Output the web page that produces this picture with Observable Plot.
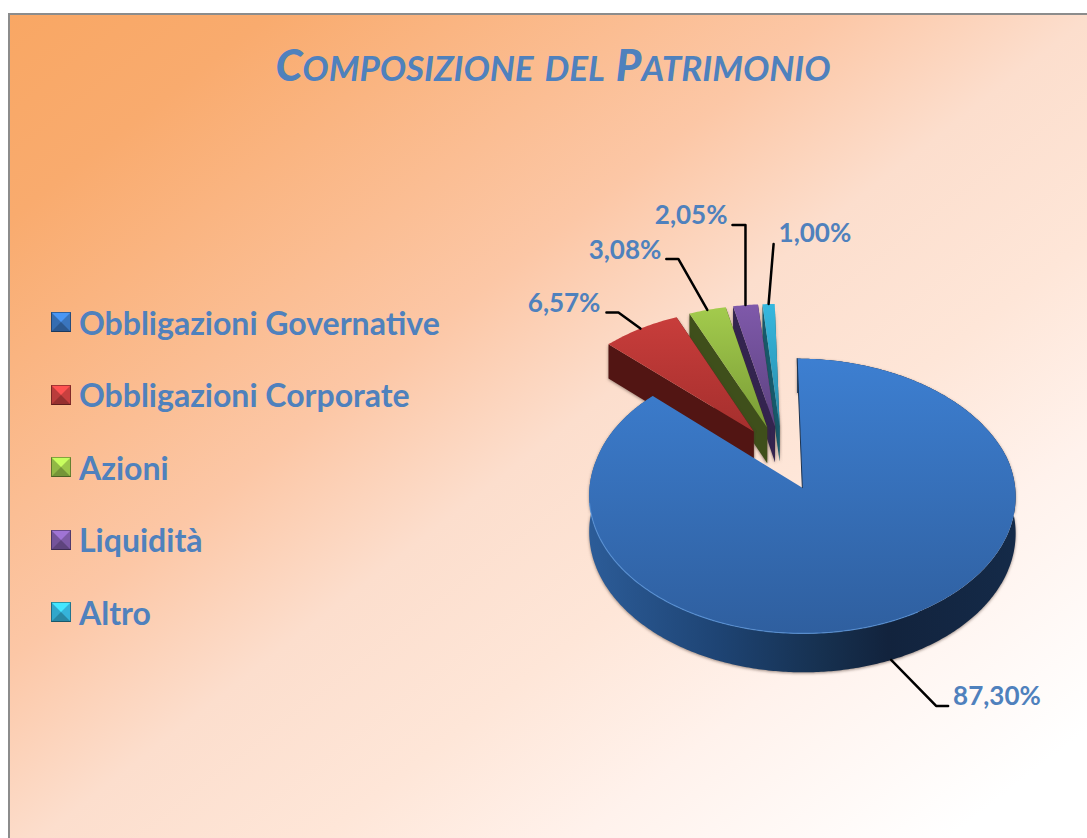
<!DOCTYPE html>
<html lang="it">
<head>
<meta charset="utf-8">
<script src="https://cdn.jsdelivr.net/npm/d3@7"></script>
<script src="https://cdn.jsdelivr.net/npm/@observablehq/plot@0.6"></script>
<style>
  html, body { margin: 0; padding: 0; background: #fff; overflow: hidden; width: 1087px; height: 838px; }
  #frame { position: absolute; left: 8px; top: 13px; width: 1100px; height: 840px; box-sizing: border-box;
    border: 2px solid #8c8c8c;
    background: linear-gradient(142deg, #f9a764 0%, #f9ab6e 12%, #fcc7a6 38%, #fcdecd 50%, #fee6d8 63%, #fff2ec 75%, #ffffff 92%); }
  #title { position: absolute; left: 0; top: 32px; width: 1106px; text-align: center; color: #4f81bd;
    font: italic bold 49.5px Lato, sans-serif; font-variant: small-caps; letter-spacing: 0; }
  #title b { font-size: 43.5px; font-variant: normal; }
  #legend { position: absolute; left: 51px; top: 286px; }
  .item { position: absolute; left: 0; display: flex; align-items: center; white-space: nowrap; height: 40px;
    color: #4f81bd; font: bold 32px Lato, sans-serif; }
  .sw { width: 0; height: 0; border-style: solid; border-width: 10px; margin-right: 8px; outline: 1px solid rgba(0,0,0,.35); outline-offset: -1px; }
  #chart { position: absolute; left: 0; top: 0; }
  #chart svg { display: block; background: transparent; }
</style>
</head>
<body>
<div id="frame"></div>
<div id="title"><b>C</b>omposizione del <b>P</b>atrimonio</div>
<div id="legend"></div>
<div id="chart"></div>
<script>
const categories = ["Obbligazioni Governative", "Obbligazioni Corporate", "Azioni", "Liquidità", "Altro"];
const values = [87.30, 6.57, 3.08, 2.05, 1.00];
const swatchColors = ["#3a75be", "#c8403f", "#9cc64a", "#7d5aa6", "#35b3da"];
const topStart = ["#3d7fd1", "#c83d3b", "#a3cb4d", "#7f59aa", "#36b8df"];
const topEnd = ["#2f5f9f", "#a52f2d", "#7a9c36", "#5c4280", "#298aa8"];
const wallColors = [null, "#521513", "#3f4f1b", "#33244f", "#165a6c"];
// leader layout, in pixels from the rim point of each slice
const kneeOffset = [[45, 46], [-22, -16], [-29, -51], [0, -80], [5, -60]];
const endOffset = [[57, 46], [-34, -16], [-41, -51], [-13, -80], [5, -60]];
const labelOffset = [[62, 37], [-40, -25], [-46, -59], [-18, -89], [10, -70]];

// pie projection
const W = 1087, H = 838, R = 210, S = 133.3, CX = 782, CY = 457.3;
const explode = 0.24, persp = 0.06, depth = 36 / S, lean = 0.026;
const project = (u, v, z = 0) => {
  const w = 1 / (1 - persp * v);
  return {x: (u + lean * Math.min(v, 0)) * w, y: v * w + z * w};
};

const arcs = d3.pie().sort(null).value(d => d)(values);
const slices = arcs.map((a, i) => {
  const mid = (a.startAngle + a.endAngle) / 2;
  const ou = explode * Math.sin(mid), ov = -explode * Math.cos(mid);
  const rim = (t, z = 0) => project(ou + Math.sin(t), ov - Math.cos(t), z);
  const n = Math.max(4, Math.ceil((a.endAngle - a.startAngle) * 90));
  const ts = d3.range(n + 1).map(k => a.startAngle + (a.endAngle - a.startAngle) * k / n);
  const apex = project(ou, ov), apexLow = project(ou, ov, depth);
  return {i, mid, rim, ts, apex, apexLow, top: [apex, ...ts.map(t => rim(t)), apex]};
});

const defsMark = () => {
  const g = document.createElementNS("http://www.w3.org/2000/svg", "g");
  const vert = slices.map(s => `<linearGradient id="top${s.i}" x1="0" y1="0" x2="0" y2="1"><stop offset="0" stop-color="${topStart[s.i]}"/><stop offset="1" stop-color="${topEnd[s.i]}"/></linearGradient>`).join("");
  g.innerHTML = `<defs>${vert}<linearGradient id="blueWall" x1="0" y1="0" x2="1" y2="0">
    <stop offset="0" stop-color="#2c5c98"/><stop offset=".3" stop-color="#1e4474"/><stop offset=".55" stop-color="#16304f"/>
    <stop offset=".7" stop-color="#12233d"/><stop offset="1" stop-color="#142a48"/></linearGradient></defs>`;
  return g;
};

const shadow = "drop-shadow(0 1px 1.5px rgba(70,50,40,.55))";
const xy = {x: "x", y: "y"};
const marks = [defsMark];

// small slices, back to front, each with its cut wall; the blue slice goes last
for (const s of slices.slice(1).reverse()) {
  const corner = s.rim(s.ts[0]), cornerLow = s.rim(s.ts[0], depth);
  const endC = s.rim(s.ts[s.ts.length - 1]), endLow = s.rim(s.ts[s.ts.length - 1], depth);
  marks.push(Plot.line([s.apex, endC, endLow, s.apexLow], {...xy, fill: wallColors[s.i], stroke: "none", imageFilter: shadow}));
  marks.push(Plot.line([s.apex, corner, cornerLow, s.apexLow], {...xy, fill: wallColors[s.i], stroke: "none", imageFilter: shadow}));
  marks.push(Plot.line(s.top, {...xy, fill: `url(#top${s.i})`, stroke: "none"}));
}
const b = slices[0];
const wallTop = b.ts.map(t => b.rim(t));
const wallLow = b.ts.map(t => b.rim(t, depth));
marks.push(Plot.line([...wallTop, ...wallLow.reverse()], {...xy, fill: "url(#blueWall)", stroke: "none", imageFilter: shadow}));
marks.push(Plot.line(b.top, {...xy, fill: "url(#top0)", stroke: "none"}));
marks.push(Plot.line([b.rim(b.ts[0]), b.apex], {...xy, stroke: "#1c3350", strokeWidth: 1}));
const edge = b.ts.filter(t => t > 2.6 && t < 4.6).map(t => b.rim(t));
marks.push(Plot.line(edge, {...xy, stroke: "#5b98e0", strokeWidth: 1.2, strokeOpacity: 0.7}));

// leaders and percentage labels
const fmt = d3.format(".2f");
const px = ([dx, dy], p) => ({x: p.x + dx / R, y: p.y + dy / S});
slices.forEach(s => {
  const a = s.rim(s.mid, s.i === 0 ? depth : 0);
  const knee = px(kneeOffset[s.i], a), end = px(endOffset[s.i], a), lab = px(labelOffset[s.i], a);
  marks.push(Plot.line([a, knee, end], {...xy, stroke: "#000", strokeWidth: 2.5, curve: "linear"}));
  marks.push(Plot.text([lab], {...xy, text: () => fmt(values[s.i]).replace(".", ",") + "%",
    textAnchor: s.i === 0 || s.i === 4 ? "start" : "end", fill: "#4f81bd",
    fontFamily: "Lato, sans-serif", fontWeight: 700, fontSize: 26}));
});

const chart = Plot.plot({
  width: W, height: H, margin: 0,
  x: {domain: [-CX / R, (W - CX) / R], range: [0, W], axis: null},
  y: {domain: [-CY / S, (H - CY) / S], range: [0, H], axis: null},
  style: {background: "transparent", overflow: "visible"},
  marks
});
document.getElementById("chart").append(chart);

// legend
const legend = d3.select("#legend");
categories.forEach((c, i) => {
  const col = d3.color(swatchColors[i]);
  const item = legend.append("div").attr("class", "item").style("top", (i * 72.6 + 16) + "px");
  item.append("span").attr("class", "sw").style("border-color",
    `${col.brighter(0.7)} ${col} ${col.darker(0.8)} ${col.darker(0.2)}`);
  item.append("span").text(c);
});
</script>
</body>
</html>
